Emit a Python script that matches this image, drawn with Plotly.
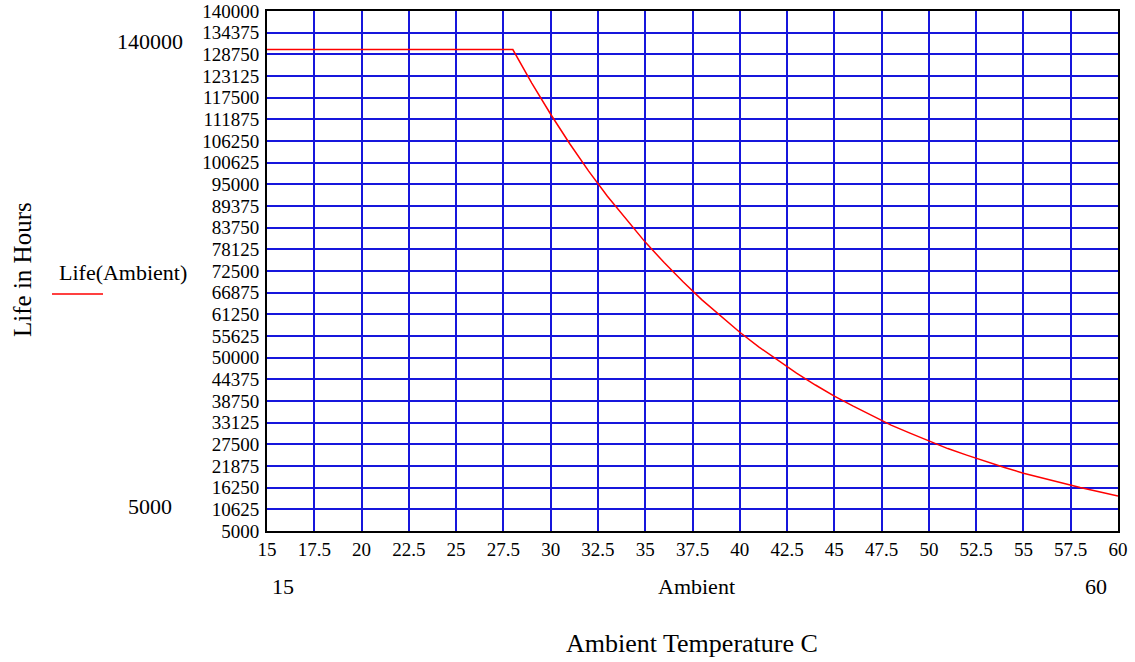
import plotly.graph_objects as go

# Data
ambient = [15, 28, 29, 30, 31, 32, 33, 34, 35, 36, 37, 38, 39, 40, 41, 42, 43, 44,
           45, 46, 47, 48, 49, 50, 51, 52, 53, 54, 55, 56, 57, 58, 59, 60]
life = [130000, 130000, 121300, 113200, 105600, 98500, 91900, 85800, 80000, 74700,
        69700, 65000, 60700, 56600, 52800, 49300, 46000, 42900, 40000, 37400, 34900,
        32500, 30400, 28300, 26400, 24700, 23000, 21500, 20000, 18700, 17500, 16300,
        15200, 14100]
y_ticks = [5000 + 5625 * i for i in range(25)]
x_ticks = [15 + 2.5 * i for i in range(19)]
x_tick_text = [("%g" % v) for v in x_ticks]

FONT = "Liberation Serif, Times New Roman, serif"
GRID = "#1616dc"

fig = go.Figure()
fig.add_trace(go.Scatter(x=ambient, y=life, mode="lines",
                         line=dict(color="#ff0000", width=1.5),
                         showlegend=False, hoverinfo="skip"))

# plot area target: x 267..1118, y 11..531 in page pixels (body margin removed)
fig.update_layout(
    width=1135, height=662,
    margin=dict(l=267, r=17, t=11, b=131),
    paper_bgcolor="white", plot_bgcolor="white",
    font=dict(family=FONT, size=19, color="black"),
    xaxis=dict(range=[15, 60], tickvals=x_ticks, ticktext=x_tick_text,
               showgrid=True, gridcolor=GRID, gridwidth=2,
               showline=True, linecolor="black", linewidth=2, mirror=True,
               zeroline=False, ticks="", ticklabelstandoff=0, automargin=False,
               ticklabeloverflow="allow",
               tickfont=dict(family=FONT, size=19)),
    yaxis=dict(range=[5000, 140000], tickvals=y_ticks,
               ticktext=[str(v) for v in y_ticks],
               showgrid=True, gridcolor=GRID, gridwidth=2,
               showline=True, linecolor="black", linewidth=2, mirror=True,
               zeroline=False, ticks="", ticklabelstandoff=2, automargin=False,
               ticklabeloverflow="allow",
               tickfont=dict(family=FONT, size=19)),
)

# paper coordinates from page pixels
def px(x):
    return (x - 267) / 851.0

def py(y):
    return (531 - y) / 520.0

ann = [
    dict(text="140000", x=150, y=41, size=22),
    dict(text="5000", x=150, y=506, size=22),
    dict(text="Life(Ambient)", x=123, y=272, size=22),
    dict(text="15", x=283, y=586, size=22),
    dict(text="Ambient", x=696, y=586, size=22),
    dict(text="60", x=1096, y=586, size=22),
    dict(text="Ambient Temperature C", x=692, y=643, size=26),
]
for a in ann:
    fig.add_annotation(text=a["text"], x=px(a["x"]), y=py(a["y"]), xref="paper", yref="paper",
                       showarrow=False, xanchor="center", yanchor="middle",
                       font=dict(family=FONT, size=a["size"], color="black"))
fig.add_annotation(text="Life in Hours", x=px(22), y=py(270), xref="paper", yref="paper",
                   showarrow=False, textangle=-90, xanchor="center", yanchor="middle",
                   font=dict(family=FONT, size=25, color="black"))
fig.add_shape(type="line", xref="paper", yref="paper", x0=px(52), x1=px(103),
              y0=py(294), y1=py(294), line=dict(color="#ff0000", width=1.5))

fig.write_html("out.html", config={"displayModeBar": False},
               post_script="document.body.style.margin='0';document.body.style.overflow='hidden';")
